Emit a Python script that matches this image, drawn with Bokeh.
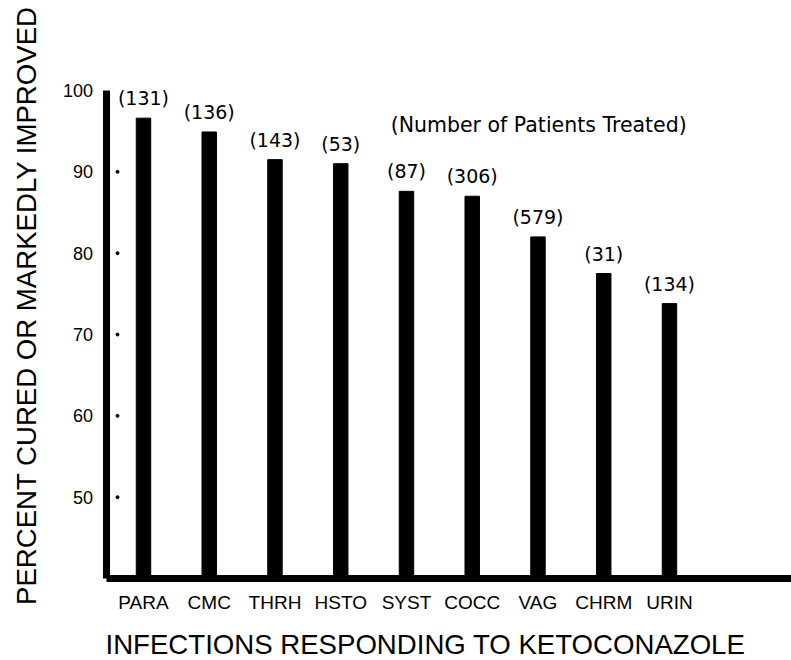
import math
from bokeh.plotting import figure
from bokeh.models import FixedTicker, Label, Range1d, LinearAxis
from bokeh.embed import file_html
from bokeh.resources import INLINE
from bokeh.core.properties import value

# ---- data ----
categories = ["PARA", "CMC", "THRH", "HSTO", "SYST", "COCC", "VAG", "CHRM", "URIN"]
percent_cured = [96.6, 94.9, 91.5, 91.0, 87.6, 87.0, 82.0, 77.5, 73.8]
patients_treated = [131, 136, 143, 53, 87, 306, 579, 31, 134]
y_ticks = [50, 60, 70, 80, 90, 100]
y_tick_dots = [50, 60, 70, 80, 90]

x_title = "INFECTIONS RESPONDING TO KETOCONAZOLE"
y_title = "PERCENT CURED OR MARKEDLY IMPROVED"
note = "(Number of Patients Treated)"

idx = list(range(len(categories)))
count_labels = ["(%d)" % n for n in patients_treated]

# axis origin (where the two heavy axis lines meet) and the value scale
x_origin, y_origin, y_top = -0.555, 40, 100
# visible window (the whole canvas is the plotting frame)
x_lo, x_hi = -2.1748, 9.856
y_lo, y_hi = 29.918, 111.066

p = figure(width=791, height=660,
           x_range=Range1d(x_lo, x_hi), y_range=Range1d(y_lo, y_hi),
           output_backend="svg", toolbar_location=None,
           x_axis_location=None, y_axis_location=None,
           min_border=0, min_border_left=0, min_border_right=0,
           min_border_top=0, min_border_bottom=0)

p.outline_line_color = None
p.xgrid.visible = False
p.ygrid.visible = False
p.background_fill_color = "white"
p.border_fill_color = "white"

p.vbar(x=idx, top=percent_cured, bottom=y_origin, width=0.22,
       fill_color="black", line_color="black")

p.text(x=idx, y=percent_cured, text=count_labels, y_offset=-20,
       text_align="center", text_baseline="middle",
       text_font=value("DejaVu Sans"), text_font_size="19px", text_color="black")

p.scatter(x=[x_origin + 0.16] * len(y_tick_dots), y=y_tick_dots, size=3,
          fill_color="black", line_color="black")

# x axis (baseline at y = 40)
xa = LinearAxis(fixed_location=y_origin, bounds=(x_origin, x_hi))
xa.ticker = FixedTicker(ticks=idx)
xa.major_label_overrides = {i: c for i, c in zip(idx, categories)}
xa.axis_line_width = 7
xa.axis_line_color = "black"
xa.major_tick_in = 0
xa.major_tick_out = 0
xa.minor_tick_in = 0
xa.minor_tick_out = 0
xa.major_label_standoff = 13
xa.major_label_text_font = "Liberation Sans"
xa.major_label_text_font_size = "19px"
xa.major_label_text_color = "black"
p.add_layout(xa, "below")

# y axis
ya = LinearAxis(fixed_location=x_origin, bounds=(y_origin, y_top))
ya.ticker = FixedTicker(ticks=y_ticks)
ya.axis_line_width = 7
ya.axis_line_color = "black"
ya.major_tick_in = 0
ya.major_tick_out = 0
ya.minor_tick_in = 0
ya.minor_tick_out = 0
ya.major_label_standoff = 14
ya.major_label_text_font = "Liberation Sans"
ya.major_label_text_font_size = "18px"
ya.major_label_text_color = "black"
p.add_layout(ya, "left")

p.add_layout(Label(x=3.76, y=95.7, text=note,
                   text_align="left", text_baseline="middle",
                   text_font="DejaVu Sans", text_font_size="20.5px",
                   text_color="black"))

# axis titles
p.add_layout(Label(x=-0.5778, y=31.88, text=x_title,
                   text_align="left", text_baseline="middle",
                   text_font="Liberation Sans", text_font_size="27.6px",
                   text_color="black"))
p.add_layout(Label(x=-1.7794, y=73.565, text=y_title, angle=math.pi / 2,
                   text_align="center", text_baseline="middle",
                   text_font="Liberation Sans", text_font_size="27.6px",
                   text_color="black"))

open("out.html", "w").write(file_html(p, INLINE))
